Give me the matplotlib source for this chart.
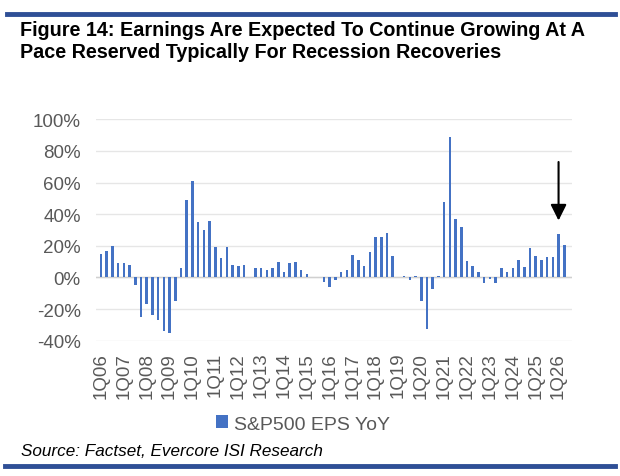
import matplotlib
matplotlib.use('Agg')
import matplotlib.pyplot as plt
import numpy as np

plt.rcParams['font.family'] = ['Liberation Sans', 'DejaVu Sans']

# S&P500 EPS YoY (%), quarterly 1Q06 .. 2Q26
years = list(range(6, 27))
quarters = [f'{q}Q{y:02d}' for y in years for q in range(1, 5)][:82]
eps_yoy = [
    15, 17, 20, 9, 9, 8,                                   # 1Q06-2Q07
    -5, -25, -17, -24, -27, -34, -35, -15, 6,              # 3Q07-3Q09
    49, 61, 35, 30, 36, 19, 12, 19, 8, 7, 8, 0.3,          # 4Q09-3Q12
    6, 6, 5, 6, 10, 3.5, 9, 10, 5, 2, 0.3, 0.2,            # 4Q12-3Q15
    -3, -6, -1.5, 3.5, 5, 14, 11, 7, 16, 25.7, 25.7, 28,   # 4Q15-3Q18
    13.7, 0.5, 1, -1.5, 1,                                 # 4Q18-4Q19
    -14.8, -32.7, -7.4, 1, 47.5, 88.6, 37, 32,             # 1Q20-4Q21
    10.5, 7.4, 3.6, -3.8, -1, -3.8,                        # 1Q22-2Q23
    5.9, 3.6, 6, 11, 6.7, 18.5, 13.5, 11, 13, 13, 27.4, 20.6,  # 3Q23-2Q26
]
tick_labels = [q for q in quarters if q.startswith('1Q')]
arrow_idx = 80
arrow_from, arrow_to = 73, 36

title_lines = ['Figure 14: Earnings Are Expected To Continue Growing At A',
               'Pace Reserved Typically For Recession Recoveries']

BLUE = '#4472C4'
RULE = '#2F4F96'
GREY = '#595959'

fig = plt.figure(figsize=(6.2, 4.77), dpi=100)
ax = fig.add_axes([96 / 620, 1 - 341.7 / 477, (572 - 96) / 620, (341.7 - 120.3) / 477])

x = np.arange(len(eps_yoy))
ax.bar(x, eps_yoy, width=0.45, color=BLUE, label='S&P500 EPS YoY', zorder=3)
ax.axhline(0, color='#D0D0D0', linewidth=1.0, zorder=2)

ax.set_ylim(-40, 100)
ax.set_xlim(-0.87, 82.35)
ax.set_yticks(np.arange(-40, 101, 20))
ax.set_yticklabels([f'{v}%' for v in range(-40, 101, 20)])
ax.set_xticks([i for i, q in enumerate(quarters) if q.startswith('1Q')])
ax.set_xticklabels(tick_labels, rotation=90)
ax.tick_params(axis='both', length=0, labelsize=13.5, labelcolor=GREY)
ax.tick_params(axis='y', pad=11)
ax.tick_params(axis='x', pad=8)
ax.grid(True, axis='y', color='#E6E6E6', linewidth=1.0, zorder=0)
for s in ax.spines.values():
    s.set_visible(False)

ax.annotate('', xy=(arrow_idx, arrow_to), xytext=(arrow_idx, arrow_from),
            arrowprops=dict(arrowstyle='-|>', color='black', lw=1.5,
                            mutation_scale=24, shrinkA=0, shrinkB=0))

leg = fig.legend(loc='center', bbox_to_anchor=(303 / 620, 1 - 425 / 477), frameon=False,
                 fontsize=14, handlelength=0.6, handleheight=0.6, handletextpad=0.3)
for t in leg.get_texts():
    t.set_color(GREY)

for i, line in enumerate(title_lines):
    fig.text(20 / 620, 1 - (30 + 22 * i) / 477, line,
             fontsize=14.2, fontweight='bold', va='center', ha='left')
fig.text(21 / 620, 1 - 452 / 477, 'Source: Factset, Evercore ISI Research',
         fontsize=12.3, fontstyle='italic', va='center', ha='left')

fig.add_artist(plt.Line2D([7 / 620, 615 / 620], [1 - 14.5 / 477] * 2, color=RULE, linewidth=3.5))
fig.add_artist(plt.Line2D([5 / 620, 615 / 620], [1 - 467 / 477] * 2, color=RULE, linewidth=3.5))

fig.savefig('out.png', dpi=100)
